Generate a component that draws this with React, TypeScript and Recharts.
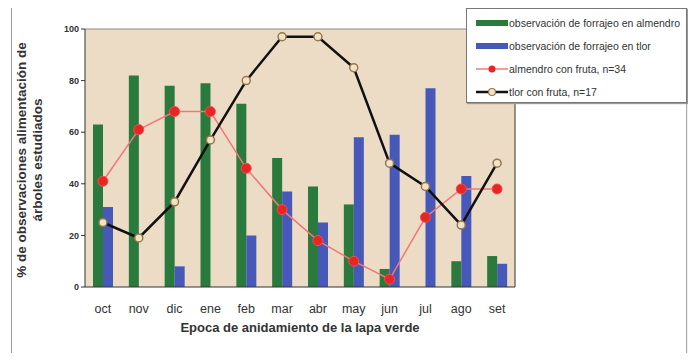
import { ComposedChart, Bar, Line, XAxis, YAxis, CartesianGrid } from "recharts"

const months = ["oct", "nov", "dic", "ene", "feb", "mar", "abr", "may", "jun", "jul", "ago", "set"]
const forrajeoAlmendro = [63, 82, 78, 79, 71, 50, 39, 32, 7, 0, 10, 12]
const forrajeoTlor = [31, 0, 8, 0, 20, 37, 25, 58, 59, 77, 43, 9]
const almendroFruta = [41, 61, 68, 68, 46, 30, 18, 10, 3, 27, 38, 38]
const tlorFruta = [25, 19, 33, 57, 80, 97, 97, 85, 48, 39, 24, 48]
const leftTicks = [0, 20, 40, 60, 80, 100]
const boundaryTicks = [1, 2, 3, 4, 5, 6, 7, 8, 9, 10, 11, 12]

const data = months.map((m, i) => ({
  month: m,
  almendro: forrajeoAlmendro[i],
  tlor: forrajeoTlor[i],
  almendroFruta: almendroFruta[i],
  tlorFruta: tlorFruta[i],
}))

const FONT = "'Liberation Sans', Arial, sans-serif"

function LegendBox() {
  const txt = { fontSize: 10.5, color: "#333", whiteSpace: "nowrap" as const, marginLeft: 1 }
  const row = { display: "flex", alignItems: "center", height: 23 }
  return (
    <div
      style={{
        position: "absolute",
        left: 466,
        top: 8,
        width: 221,
        height: 95,
        background: "#fff",
        border: "1px solid #777",
        boxShadow: "1px 1px 1px #999",
        overflow: "hidden",
        fontFamily: FONT,
        paddingLeft: 9,
        paddingTop: 2,
        boxSizing: "border-box",
      }}
    >
      <div style={row}>
        <div style={{ width: 32, height: 6, background: "#2a7a3e" }} />
        <span style={txt}>observación de forrajeo en almendro</span>
      </div>
      <div style={row}>
        <div style={{ width: 32, height: 6, background: "#4658b8" }} />
        <span style={txt}>observación de forrajeo en tlor</span>
      </div>
      <div style={row}>
        <svg width={32} height={10}>
          <line x1={0} y1={5} x2={32} y2={5} stroke="#f07878" strokeWidth={1.5} />
          <circle cx={16} cy={5} r={3.5} fill="#e82424" />
        </svg>
        <span style={txt}>almendro con fruta, n=34</span>
      </div>
      <div style={row}>
        <svg width={32} height={10}>
          <line x1={0} y1={5} x2={32} y2={5} stroke="#111" strokeWidth={2.5} />
          <circle cx={16} cy={5} r={3.5} fill="#efe3c8" stroke="#9a7448" strokeWidth={1.2} />
        </svg>
        <span style={txt}>tlor con fruta, n=17</span>
      </div>
    </div>
  )
}

const YLabel = () => (
  <text
    transform="translate(26,160) rotate(-90)"
    textAnchor="middle"
    fontFamily={FONT}
    fontWeight="bold"
    fontSize={13.5}
    fill="#333"
  >
    <tspan x={0} dy={0}>% de observaciones alimentación de</tspan>
    <tspan x={0} dy={16}>árboles estudiados</tspan>
  </text>
)

export default function App() {
  return (
    <div
      style={{
        position: "relative",
        margin: -8,
        width: 696,
        height: 361,
        background: "#fff",
        overflow: "hidden",
      }}
    >
      <div style={{ position: "absolute", left: 0, top: 0, width: 696, height: 8, background: "#c9c9c9" }} />
      <div style={{ position: "absolute", left: 11, top: 8, width: 1, height: 353, background: "#999" }} />
      <div style={{ position: "absolute", left: 686, top: 8, width: 10, height: 353, background: "#eee", borderLeft: "1px solid #aaa" }} />
      <ComposedChart
        width={696}
        height={361}
        data={data}
        margin={{ top: 28, right: 0, bottom: 0, left: 0 }}
        barGap={0}
        barSize={10}
        style={{ position: "absolute", left: 0, top: 0, fontFamily: FONT }}
      >
        <CartesianGrid fill="#ecdcc6" horizontal={false} vertical={false} />
        <XAxis
          xAxisId="bounds"
          type="number"
          domain={[0, 12]}
          ticks={boundaryTicks}
          interval={0}
          height={1}
          tick={() => <g />}
          axisLine={false}
          tickLine={{ stroke: "#333" }}
          tickSize={5}
        />
        <XAxis
          dataKey="month"
          height={73}
          axisLine={{ stroke: "#333" }}
          tickLine={false}
          tick={{ fontSize: 12.5, fill: "#333" }}
          tickMargin={11}
          label={{
            value: "Epoca de anidamiento de la lapa verde",
            position: "insideBottom",
            offset: 28,
            fontSize: 13,
            fontWeight: "bold",
            fill: "#333",
          }}
        />
        <XAxis xAxisId="top" orientation="top" dataKey="month" tick={false} tickLine={false} axisLine={{ stroke: "#888" }} height={1} />
        <YAxis
          yAxisId="left"
          width={85}
          domain={[0, 100]}
          ticks={leftTicks}
          axisLine={{ stroke: "#333" }}
          tickLine={{ stroke: "#333" }}
          tickSize={4}
          tick={{ fontSize: 9, fill: "#333", fontWeight: "bold" }}
          label={<YLabel />}
        />
        <YAxis
          yAxisId="right"
          orientation="right"
          width={181}
          domain={[0, 100]}
          ticks={[0]}
          axisLine={{ stroke: "#333" }}
          tickLine={{ stroke: "#333" }}
          tickSize={6}
          tick={{ fontSize: 12, fill: "#333", fontWeight: "bold", textAnchor: "start" }}
        />
        <Bar yAxisId="left" dataKey="almendro" fill="#2a7a3e" isAnimationActive={false} />
        <Bar yAxisId="left" dataKey="tlor" fill="#4658b8" isAnimationActive={false} />
        <Line
          yAxisId="left"
          dataKey="almendroFruta"
          stroke="#f07878"
          strokeWidth={1.5}
          dot={{ r: 5, fill: "#e82424", stroke: "#f05050", strokeWidth: 1 }}
          isAnimationActive={false}
        />
        <Line
          yAxisId="left"
          dataKey="tlorFruta"
          stroke="#111"
          strokeWidth={2.5}
          dot={{ r: 4, fill: "#efe3c8", stroke: "#9a7448", strokeWidth: 1.5 }}
          isAnimationActive={false}
        />
      </ComposedChart>
      <LegendBox />
    </div>
  )
}
